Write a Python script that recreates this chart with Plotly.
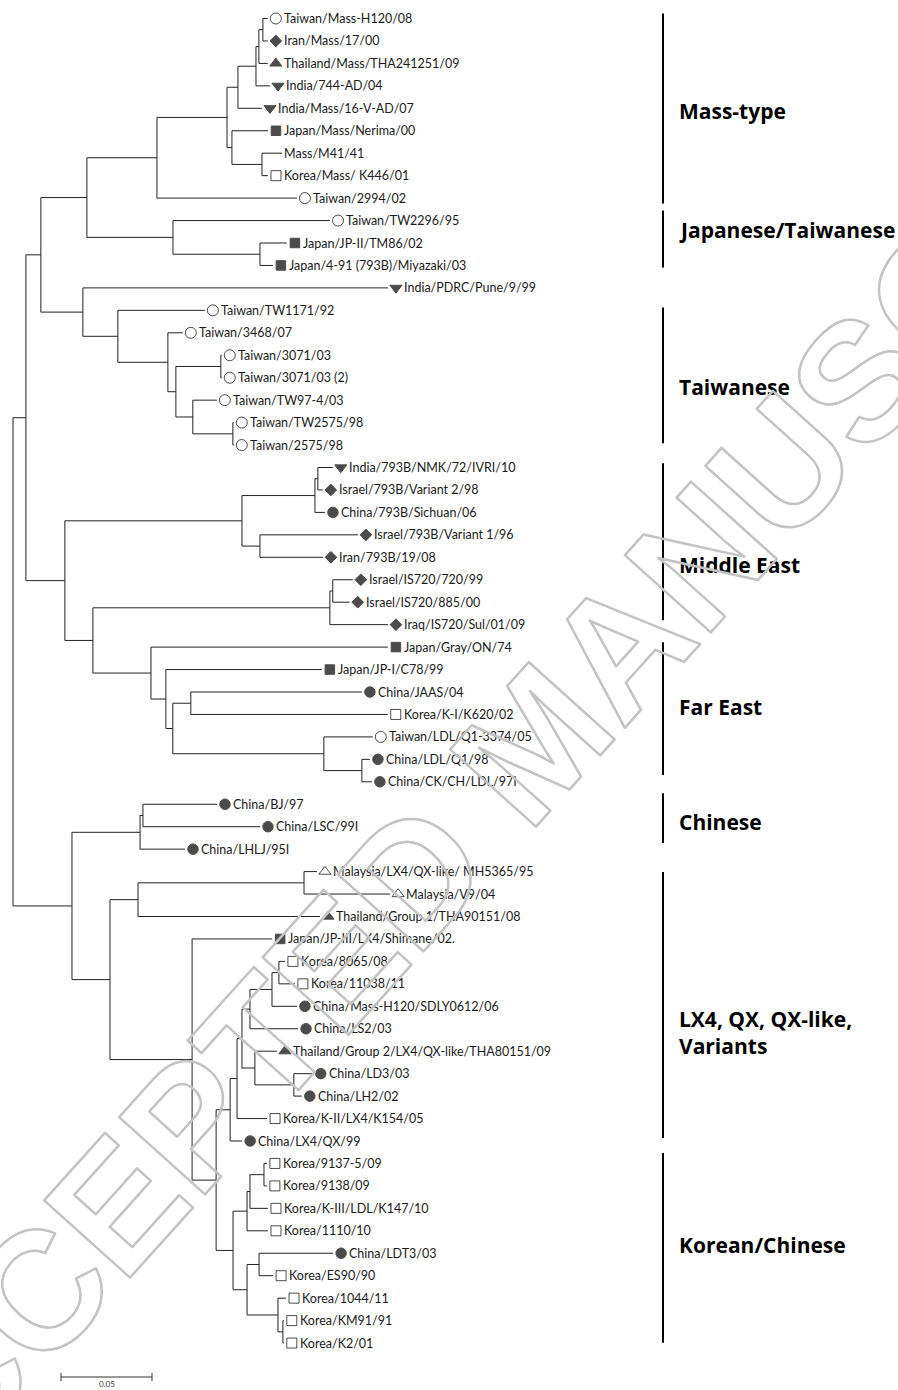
import plotly.graph_objects as go

# ---------------- data ----------------
LEAF_NAMES = [
    "Taiwan/Mass-H120/08", "Iran/Mass/17/00", "Thailand/Mass/THA241251/09", "India/744-AD/04",
    "India/Mass/16-V-AD/07", "Japan/Mass/Nerima/00", "Mass/M41/41", "Korea/Mass/ K446/01",
    "Taiwan/2994/02", "Taiwan/TW2296/95", "Japan/JP-II/TM86/02", "Japan/4-91 (793B)/Miyazaki/03",
    "India/PDRC/Pune/9/99", "Taiwan/TW1171/92", "Taiwan/3468/07", "Taiwan/3071/03",
    "Taiwan/3071/03 (2)", "Taiwan/TW97-4/03", "Taiwan/TW2575/98", "Taiwan/2575/98",
    "India/793B/NMK/72/IVRI/10", "Israel/793B/Variant 2/98", "China/793B/Sichuan/06",
    "Israel/793B/Variant 1/96", "Iran/793B/19/08", "Israel/IS720/720/99", "Israel/IS720/885/00",
    "Iraq/IS720/Sul/01/09", "Japan/Gray/ON/74", "Japan/JP-I/C78/99", "China/JAAS/04",
    "Korea/K-I/K620/02", "Taiwan/LDL/Q1-3374/05", "China/LDL/Q1/98", "China/CK/CH/LDL/97I",
    "China/BJ/97", "China/LSC/99I", "China/LHLJ/95I", "Malaysia/LX4/QX-like/ MH5365/95",
    "Malaysia/V9/04", "Thailand/Group 1/THA90151/08", "Japan/JP-III/LX4/Shimane/02.",
    "Korea/8065/08", "Korea/11038/11", "China/Mass-H120/SDLY0612/06", "China/LS2/03",
    "Thailand/Group 2/LX4/QX-like/THA80151/09", "China/LD3/03", "China/LH2/02",
    "Korea/K-II/LX4/K154/05", "China/LX4/QX/99", "Korea/9137-5/09", "Korea/9138/09",
    "Korea/K-III/LDL/K147/10", "Korea/1110/10", "China/LDT3/03", "Korea/ES90/90",
    "Korea/1044/11", "Korea/KM91/91", "Korea/K2/01",
]

# internal node -> [(child, branch length)]; integer children are leaves (index in LEAF_NAMES)
TREE = {
    "root": [("A", 0.0071), ("AF", 0.0324)],
    "A": [("B", 0.0082), ("T", 0.0214)],
    "B": [("C", 0.0253), ("M", 0.0231)],
    "C": [("D", 0.0385), ("K", 0.0473)],
    "D": [("E", 0.0385), (8, 0.0769)],
    "E": [("F", 0.0060), ("I", 0.0027)],
    "F": [("G", 0.0099), (4, 0.0132)],
    "G": [("G1", 0.0016), (3, 0.0077)],
    "G1": [("H", 0.0022), (2, 0.0049)],
    "H": [(0, 0.0027), (1, 0.0027)],
    "I": [(5, 0.0198), ("J", 0.0165)],
    "J": [(6, 0.0110), (7, 0.0033)],
    "K": [(9, 0.0863), ("L", 0.0478)],
    "L": [(10, 0.0148), (11, 0.0071)],
    "M": [(12, 0.1676), ("N", 0.0192)],
    "N": [(13, 0.0478), ("O", 0.0275)],
    "O": [(14, 0.0082), ("P", 0.0044)],
    "P": [("Q", 0.0247), ("R", 0.0093)],
    "Q": [(15, 0.0005), (16, 0.0005)],
    "R": [(17, 0.0132), ("S", 0.0220)],
    "S": [(18, 0.0005), (19, 0.0005)],
    "T": [("U", 0.0973), ("V", 0.0154)],
    "U": [("W", 0.0401), ("X", 0.0099)],
    "W": [("W1", 0.0016), (22, 0.0055)],
    "W1": [(20, 0.0082), (21, 0.0027)],
    "X": [(23, 0.0538), (24, 0.0346)],
    "V": [("Y", 0.1302), ("Z", 0.0319)],
    "Y": [("Y1", 0.0016), (27, 0.0319)],
    "Y1": [(25, 0.0110), (26, 0.0093)],
    "Z": [(28, 0.1302), ("AA", 0.0082)],
    "AA": [(29, 0.0857), ("AB", 0.0038)],
    "AB": [("AC", 0.0099), ("AD", 0.0830)],
    "AC": [(30, 0.0940), (31, 0.1082)],
    "AD": [(32, 0.0269), ("AE", 0.0209)],
    "AE": [(33, 0.0044), (34, 0.0055)],
    "AF": [("AG", 0.0374), ("AH", 0.0209)],
    "AG": [("AG1", 0.0016), (37, 0.0247)],
    "AG1": [(35, 0.0407), (36, 0.0643)],
    "AH": [("AI", 0.0154), ("AJ", 0.0451)],
    "AI": [("AK", 0.0912), (40, 0.1000)],
    "AK": [(38, 0.0071), (39, 0.0473)],
    "AJ": [(41, 0.0440), ("AL", 0.0132)],
    "AL": [("AM", 0.0077), ("AN", 0.0093)],
    "AM": [("AO", 0.0038), (50, 0.0066)],
    "AO": [("AP", 0.0027), (49, 0.0165)],
    "AP": [("AQ", 0.0044), ("AR", 0.0071)],
    "AQ": [("AS", 0.0121), (45, 0.0264)],
    "AS": [("AT", 0.0038), (44, 0.0137)],
    "AT": [(42, 0.0033), (43, 0.0088)],
    "AR": [(46, 0.0121), ("AU", 0.0214)],
    "AU": [(47, 0.0104), (48, 0.0044)],
    "AN": [("AV", 0.0077), ("AW", 0.0077)],
    "AV": [("AX", 0.0016), (54, 0.0115)],
    "AX": [("AY", 0.0077), (53, 0.0099)],
    "AY": [(51, 0.0016), (52, 0.0016)],
    "AW": [("AZ", 0.0066), ("BA", 0.0170)],
    "AZ": [(55, 0.0407), (56, 0.0077)],
    "BA": [(57, 0.0044), ("BB", 0.0027)],
    "BB": [(58, 0.0005), (59, 0.0005)],
}

COUNTRY_SYMBOL = {
    "Taiwan": "circle-open", "Iran": "diamond", "Israel": "diamond", "Iraq": "diamond",
    "Thailand": "triangle-up", "India": "triangle-down", "Japan": "square",
    "Korea": "square-open", "China": "circle", "Malaysia": "triangle-up-open",
}

CLADE_NAMES = ["Mass-type", "Japanese/Taiwanese", "Taiwanese", "Middle East", "Far East",
               "Chinese", "LX4, QX, QX-like,<br>Variants", "Korean/Chinese"]
CLADE_TOP = [-0.22, 8.55, 12.87, 19.81, 27.78, 34.51, 38.02, 50.53]      # in leaf rows
CLADE_BOTTOM = [8.24, 11.09, 18.92, 26.80, 33.70, 36.73, 49.87, 58.99]
CLADE_LABEL_ROW = [4.10, 9.44, 16.43, 24.35, 30.68, 35.80, 45.15, 54.63]

SCALE_LEN = 0.05
SCALE_LABEL = "0.05"
WATERMARK = "ACCEPTED MANUSCRIPT"

# ---------------- layout constants ----------------
W, H = 898, 1390
PX_PER_UNIT = 1820.0
ROOT_PX = 13.0
ROW0_PX = 18.5
ROW_PX = 22.45


def dx(px):
    return px / PX_PER_UNIT


def x_of_px(px):
    return (px - ROOT_PX) / PX_PER_UNIT


def y_of_px(py):
    return (py - ROW0_PX) / ROW_PX


# ---------------- compute tree coordinates ----------------
xpos, ypos = {}, {}


def place(node, x):
    xpos[node] = x
    if isinstance(node, int):
        ypos[node] = node
        return
    kids = TREE[node]
    for c, bl in kids:
        place(c, x + bl)
    ypos[node] = (ypos[kids[0][0]] + ypos[kids[-1][0]]) / 2.0


place("root", 0.0)

ex, ey = [], []
for node, kids in TREE.items():
    x0 = xpos[node]
    ex += [x0, x0, None]
    ey += [ypos[kids[0][0]], ypos[kids[-1][0]], None]
    for c, _ in kids:
        ex += [x0, xpos[c], None]
        ey += [ypos[c], ypos[c], None]

fig = go.Figure()

fig.add_trace(go.Scatter(x=ex, y=ey, mode="lines", line=dict(color="#222222", width=1),
                         hoverinfo="skip", showlegend=False))

# markers
SYMBOL_SIZE = {"circle-open": 11, "circle": 10.5, "diamond": 9, "triangle-up": 10.5,
               "triangle-down": 10.5, "square": 9.5, "square-open": 10, "triangle-up-open": 10.5}
mx, my, ms, mz = [], [], [], []
for i, name in enumerate(LEAF_NAMES):
    sym = COUNTRY_SYMBOL.get(name.split("/")[0])
    if sym is None:
        continue
    mx.append(xpos[i] + dx(8))
    my.append(i)
    ms.append(sym)
    mz.append(SYMBOL_SIZE[sym])
fig.add_trace(go.Scatter(x=mx, y=my, mode="markers",
                         marker=dict(symbol=ms, size=mz, color="black",
                                     line=dict(color="black", width=1)),
                         hoverinfo="skip", showlegend=False))

annotations = []
for i, name in enumerate(LEAF_NAMES):
    has_mark = name.split("/")[0] in COUNTRY_SYMBOL
    annotations.append(dict(
        x=xpos[i] + dx(15 if has_mark else 1), y=i, text=name, showarrow=False,
        xanchor="left", yanchor="middle", borderpad=0,
        font=dict(family="Lato", size=12.5, color="#1a1a1a")))

# clade bars and labels
BAR_X = x_of_px(663)
LABEL_X = x_of_px(678)
shapes = []
for name, t, b, ly in zip(CLADE_NAMES, CLADE_TOP, CLADE_BOTTOM, CLADE_LABEL_ROW):
    shapes.append(dict(type="line", x0=BAR_X, x1=BAR_X, y0=t, y1=b,
                       line=dict(color="black", width=2)))
    annotations.append(dict(x=LABEL_X, y=ly, text=name, showarrow=False, xanchor="left",
                            yanchor="middle", align="left", borderpad=0,
                            font=dict(family="Open Sans", size=21, color="black", weight="bold")))

# scale bar
sx0 = x_of_px(61)
sy = y_of_px(1377)
tick = 0.18
fig.add_trace(go.Scatter(
    x=[sx0, sx0 + SCALE_LEN, None, sx0, sx0, None, sx0 + SCALE_LEN, sx0 + SCALE_LEN],
    y=[sy, sy, None, sy - tick, sy + tick, None, sy - tick, sy + tick],
    mode="lines", line=dict(color="#333333", width=1), hoverinfo="skip", showlegend=False))
annotations.append(dict(x=sx0 + SCALE_LEN / 2, y=y_of_px(1384), text=SCALE_LABEL,
                        showarrow=False, xanchor="center", yanchor="middle", borderpad=0,
                        font=dict(family="Lato", size=8, color="#333333")))

# watermark
annotations.append(dict(xref="paper", yref="paper", x=535 / W, y=1 - 741 / H, text=WATERMARK,
                        showarrow=False, xanchor="center", yanchor="middle", textangle=-48,
                        font=dict(family="Liberation Sans", size=168, color="rgba(200,200,200,0.5)",
                                  weight="bold")))

fig.update_layout(
    width=W, height=H, margin=dict(l=0, r=0, t=0, b=0),
    paper_bgcolor="white", plot_bgcolor="white",
    xaxis=dict(range=[x_of_px(0), x_of_px(W)], visible=False, fixedrange=True),
    yaxis=dict(range=[y_of_px(H), y_of_px(0)], visible=False, fixedrange=True),
    shapes=shapes, annotations=annotations, showlegend=False,
)

POST = """
document.body.style.margin = '0';
document.body.style.padding = '0';
document.body.style.overflow = 'hidden';
var gd = document.getElementById('{plot_id}');
function wm(){
  gd.querySelectorAll('text.annotation-text').forEach(function(t){
    if (t.textContent.indexOf('MANUSCRIPT') >= 0) {
      t.style.fill = 'none';
      t.style.stroke = 'rgb(195,195,195)';
      t.style.strokeWidth = '2.5px';
      t.style.strokeLinejoin = 'round';
    }
  });
}
wm();
if (gd.on) { gd.on('plotly_afterplot', wm); }
"""

fig.write_html("out.html", config={"displayModeBar": False}, post_script=POST)
